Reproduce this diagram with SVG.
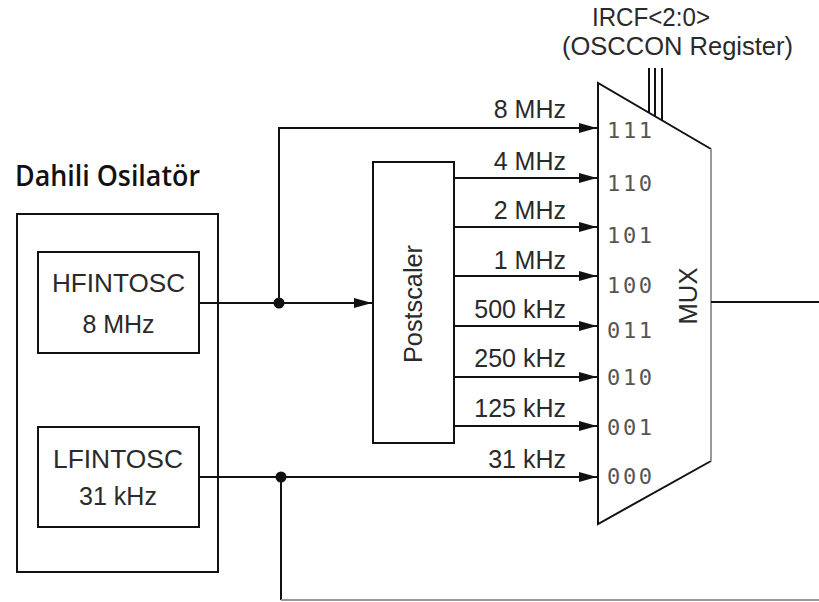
<svg xmlns="http://www.w3.org/2000/svg" width="819" height="602" viewBox="0 0 819 602">
<style>
.box{fill:none;stroke:#111;stroke-width:2}
.ln{fill:none;stroke:#111;stroke-width:2}
.gray{fill:none;stroke:#999;stroke-width:2}
.t{font-family:"Liberation Sans",Arial,sans-serif;font-size:25px;fill:#2a2a2a}
.f{font-family:"Liberation Sans",Arial,sans-serif;font-size:25px;fill:#2a2a2a;text-anchor:end}
.m{text-anchor:middle}
.d{font-family:"DejaVu Sans Mono",monospace;font-size:22px;fill:#555}
.h{font-family:"Open Sans",sans-serif;font-weight:600;font-size:28px;fill:#111}
</style>
<defs>
<marker id="ah" markerUnits="userSpaceOnUse" markerWidth="18" markerHeight="10" refX="18" refY="5" orient="auto">
<path d="M0,0 L18,5 L0,10 z" fill="#111"/>
</marker>
</defs>
<rect width="819" height="602" fill="#fff"/>
<text class="h" x="15" y="186" textLength="185" lengthAdjust="spacingAndGlyphs">Dahili Osilatör</text>
<g id="osc-group"><rect class="box" x="17" y="214" width="201" height="358"/></g>
<g id="hfintosc">
<rect class="box" x="38" y="252" width="161" height="101"/>
<text class="t m" x="118.5" y="292" textLength="133" lengthAdjust="spacingAndGlyphs">HFINTOSC</text>
<text class="t m" x="118.5" y="333">8 MHz</text>
</g>
<g id="lfintosc">
<rect class="box" x="38" y="427" width="161" height="100"/>
<text class="t m" x="118" y="468" textLength="130" lengthAdjust="spacingAndGlyphs">LFINTOSC</text>
<text class="t m" x="118" y="505">31 kHz</text>
</g>
<g id="postscaler">
<rect class="box" x="373" y="162" width="81" height="281"/>
<text class="t m" transform="translate(422,304) rotate(-90)" textLength="118" lengthAdjust="spacingAndGlyphs">Postscaler</text>
</g>
<g id="mux">
<path class="ln" d="M711,149 L598,83 L598,524 L711,461"/>
<path class="gray" d="M711,149 V461" stroke="#888"/>
<text class="t m" transform="translate(697,296) rotate(-90)" textLength="57" lengthAdjust="spacingAndGlyphs">MUX</text>
<text class="d" x="607" y="137.5" textLength="45" lengthAdjust="spacing">111</text>
<text class="d" x="607" y="191" textLength="45" lengthAdjust="spacing">110</text>
<text class="d" x="607" y="243" textLength="45" lengthAdjust="spacing">101</text>
<text class="d" x="607" y="293" textLength="45" lengthAdjust="spacing">100</text>
<text class="d" x="607" y="338" textLength="45" lengthAdjust="spacing">011</text>
<text class="d" x="607" y="385" textLength="45" lengthAdjust="spacing">010</text>
<text class="d" x="607" y="435" textLength="45" lengthAdjust="spacing">001</text>
<text class="d" x="607" y="484" textLength="45" lengthAdjust="spacing">000</text>
</g>
<g id="select">
<text class="t m" x="651" y="26" textLength="118" lengthAdjust="spacingAndGlyphs">IRCF&lt;2:0&gt;</text>
<text class="t m" x="677.5" y="55" textLength="231" lengthAdjust="spacingAndGlyphs">(OSCCON Register)</text>
</g>
<g id="connectors">
<path class="ln" d="M649,68 V113 M655,68 V116.5 M662,68 V120.5"/>
<path class="ln" d="M199,303 H372" marker-end="url(#ah)"/>
<path class="ln" d="M279,303 V128 H597" marker-end="url(#ah)"/>
<path class="ln" d="M454,178 H597" marker-end="url(#ah)"/>
<path class="ln" d="M454,227 H597" marker-end="url(#ah)"/>
<path class="ln" d="M454,276 H597" marker-end="url(#ah)"/>
<path class="ln" d="M454,326 H597" marker-end="url(#ah)"/>
<path class="ln" d="M454,377 H597" marker-end="url(#ah)"/>
<path class="ln" d="M454,426 H597" marker-end="url(#ah)"/>
<path class="ln" d="M199,477 H597" marker-end="url(#ah)"/>
<path class="ln" d="M281,477 V600"/>
<path class="gray" d="M281,600 H819"/>
<path class="ln" d="M711,302 H819"/>
<circle cx="279" cy="303" r="5.5" fill="#111"/>
<circle cx="281" cy="477" r="5.5" fill="#111"/>
</g>
<g id="labels">
<text class="f" x="566" y="118">8 MHz</text>
<text class="f" x="566" y="170">4 MHz</text>
<text class="f" x="566" y="219">2 MHz</text>
<text class="f" x="566" y="269">1 MHz</text>
<text class="f" x="566" y="318">500 kHz</text>
<text class="f" x="566" y="367">250 kHz</text>
<text class="f" x="566" y="417">125 kHz</text>
<text class="f" x="566" y="468">31 kHz</text>
</g>
</svg>
